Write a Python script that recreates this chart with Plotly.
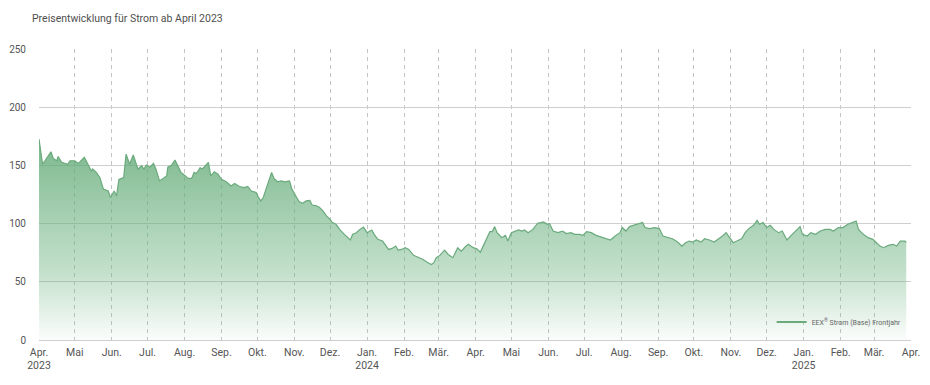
import plotly.graph_objects as go

title_text = "Preisentwicklung für Strom ab April 2023"
series_name = "EEX<sup>®</sup> Strom (Base) Frontjahr"

dates = [
    "2023-04-01", "2023-04-04", "2023-04-06", "2023-04-11", "2023-04-13", "2023-04-16", "2023-04-17", "2023-04-20",
    "2023-04-25", "2023-04-27", "2023-05-01", "2023-05-04", "2023-05-09", "2023-05-12", "2023-05-15", "2023-05-16",
    "2023-05-19", "2023-05-22", "2023-05-25", "2023-05-29", "2023-05-31", "2023-06-03", "2023-06-05", "2023-06-07",
    "2023-06-11", "2023-06-13", "2023-06-15", "2023-06-16", "2023-06-19", "2023-06-21", "2023-06-23", "2023-06-26",
    "2023-06-28", "2023-06-30", "2023-07-03", "2023-07-06", "2023-07-08", "2023-07-11", "2023-07-14", "2023-07-17",
    "2023-07-18", "2023-07-21", "2023-07-24", "2023-07-26", "2023-07-29", "2023-08-01", "2023-08-04", "2023-08-07",
    "2023-08-09", "2023-08-11", "2023-08-14", "2023-08-16", "2023-08-19", "2023-08-21", "2023-08-23", "2023-08-26",
    "2023-08-29", "2023-09-01", "2023-09-05", "2023-09-09", "2023-09-12", "2023-09-16", "2023-09-20", "2023-09-23",
    "2023-09-26", "2023-09-30", "2023-10-02", "2023-10-04", "2023-10-06", "2023-10-10", "2023-10-13", "2023-10-15",
    "2023-10-18", "2023-10-21", "2023-10-24", "2023-10-28", "2023-10-30", "2023-11-03", "2023-11-05", "2023-11-08",
    "2023-11-11", "2023-11-14", "2023-11-16", "2023-11-19", "2023-11-22", "2023-11-25", "2023-11-28", "2023-12-01",
    "2023-12-03", "2023-12-06", "2023-12-09", "2023-12-13", "2023-12-16", "2023-12-18", "2023-12-20", "2023-12-23",
    "2023-12-26", "2023-12-29", "2024-01-01", "2024-01-05", "2024-01-07", "2024-01-10", "2024-01-14", "2024-01-16",
    "2024-01-19", "2024-01-22", "2024-01-25", "2024-01-27", "2024-01-30", "2024-02-02", "2024-02-05", "2024-02-09",
    "2024-02-13", "2024-02-17", "2024-02-21", "2024-02-24", "2024-02-26", "2024-02-28", "2024-03-02", "2024-03-06",
    "2024-03-09", "2024-03-13", "2024-03-17", "2024-03-20", "2024-03-24", "2024-03-26", "2024-03-30", "2024-04-02",
    "2024-04-05", "2024-04-09", "2024-04-13", "2024-04-15", "2024-04-17", "2024-04-19", "2024-04-23", "2024-04-26",
    "2024-04-28", "2024-05-01", "2024-05-04", "2024-05-07", "2024-05-10", "2024-05-12", "2024-05-15", "2024-05-19",
    "2024-05-23", "2024-05-25", "2024-05-28", "2024-05-31", "2024-06-02", "2024-06-05", "2024-06-09", "2024-06-13",
    "2024-06-16", "2024-06-20", "2024-06-23", "2024-06-27", "2024-06-30", "2024-07-03", "2024-07-07", "2024-07-11",
    "2024-07-14", "2024-07-18", "2024-07-23", "2024-07-27", "2024-07-31", "2024-08-02", "2024-08-05", "2024-08-08",
    "2024-08-12", "2024-08-16", "2024-08-19", "2024-08-21", "2024-08-25", "2024-08-29", "2024-09-02", "2024-09-05",
    "2024-09-09", "2024-09-13", "2024-09-16", "2024-09-18", "2024-09-21", "2024-09-24", "2024-09-27", "2024-09-30",
    "2024-10-03", "2024-10-07", "2024-10-10", "2024-10-14", "2024-10-18", "2024-10-22", "2024-10-25", "2024-10-28",
    "2024-10-31", "2024-11-03", "2024-11-06", "2024-11-10", "2024-11-13", "2024-11-16", "2024-11-20", "2024-11-23",
    "2024-11-25", "2024-11-28", "2024-12-01", "2024-12-04", "2024-12-07", "2024-12-11", "2024-12-14", "2024-12-18",
    "2024-12-21", "2024-12-25", "2024-12-29", "2024-12-31", "2025-01-04", "2025-01-07", "2025-01-11", "2025-01-15",
    "2025-01-19", "2025-01-23", "2025-01-26", "2025-01-30", "2025-02-03", "2025-02-07", "2025-02-11", "2025-02-14",
    "2025-02-16", "2025-02-20", "2025-02-24", "2025-02-28", "2025-03-03", "2025-03-06", "2025-03-09", "2025-03-13",
    "2025-03-17", "2025-03-20", "2025-03-23", "2025-03-27", "2025-03-28",
]

prices = [
    172.7, 151.0, 154.0, 161.7, 156.0, 154.0, 157.7, 152.6,
    151.0, 154.0, 154.0, 151.7, 157.0, 151.0, 145.0, 147.0,
    144.0, 139.6, 129.6, 128.0, 122.4, 128.0, 123.8, 138.0,
    139.6, 159.7, 154.0, 151.0, 158.9, 152.6, 146.8, 149.7,
    146.8, 150.3, 148.5, 151.7, 147.0, 136.7, 138.6, 141.0,
    148.5, 150.0, 154.6, 149.7, 144.0, 141.6, 138.8, 138.8,
    144.0, 143.0, 148.0, 147.0, 150.3, 152.6, 141.0, 144.5,
    142.5, 138.0, 135.9, 132.4, 134.5, 131.9, 131.0, 131.9,
    128.0, 126.7, 122.4, 119.5, 122.4, 133.9, 144.0, 138.8,
    135.9, 136.7, 135.9, 136.7, 129.6, 122.4, 119.0, 117.5,
    119.5, 120.0, 116.0, 115.5, 114.0, 111.0, 106.6, 103.7,
    100.9, 99.4, 95.0, 90.8, 87.9, 85.9, 90.8, 92.2,
    95.0, 97.0, 92.2, 94.5, 90.8, 86.5, 85.0, 82.2,
    77.8, 78.7, 80.7, 77.2, 77.8, 79.3, 77.8, 72.7,
    70.7, 69.2, 66.4, 64.9, 66.4, 70.7, 72.7, 77.2,
    73.5, 70.7, 79.3, 76.4, 80.7, 82.2, 79.3, 78.4,
    75.5, 83.6, 93.1, 93.1, 97.4, 92.2, 87.9, 89.9,
    85.0, 92.2, 93.6, 94.5, 93.6, 94.5, 92.2, 95.0,
    100.3, 100.9, 101.4, 99.4, 100.0, 93.6, 92.2, 93.6,
    91.4, 92.2, 90.8, 90.8, 89.9, 93.1, 92.2, 89.9,
    88.8, 87.9, 85.9, 89.3, 92.2, 96.6, 93.6, 97.4,
    98.8, 100.3, 100.9, 96.6, 95.7, 96.6, 95.7, 89.3,
    87.9, 87.0, 85.0, 83.6, 80.7, 83.6, 85.0, 84.1,
    85.9, 84.1, 87.0, 85.9, 84.1, 87.0, 89.3, 92.2,
    87.9, 83.6, 85.0, 87.0, 92.2, 95.7, 98.5, 102.8,
    99.4, 100.9, 96.6, 98.5, 95.0, 92.2, 93.6, 85.9,
    89.3, 93.6, 97.4, 90.8, 89.3, 92.2, 90.8, 93.6,
    95.0, 95.0, 93.6, 96.6, 96.6, 99.4, 101.4, 102.2,
    95.0, 90.8, 87.9, 86.5, 83.6, 80.7, 79.3, 81.3,
    82.2, 80.7, 85.0, 85.0, 83.6,
]

month_ticks = [
    "2023-04-01", "2023-05-01", "2023-06-01", "2023-07-01", "2023-08-01", "2023-09-01", "2023-10-01",
    "2023-11-01", "2023-12-01", "2024-01-01", "2024-02-01", "2024-03-01", "2024-04-01", "2024-05-01",
    "2024-06-01", "2024-07-01", "2024-08-01", "2024-09-01", "2024-10-01", "2024-11-01", "2024-12-01",
    "2025-01-01", "2025-02-01", "2025-03-01", "2025-04-01",
]
month_labels = [
    "Apr.<br>2023", "Mai", "Jun.", "Jul.", "Aug.", "Sep.", "Okt.", "Nov.", "Dez.", "Jan.<br>2024",
    "Feb.", "Mär.", "Apr.", "Mai", "Jun.", "Jul.", "Aug.", "Sep.", "Okt.", "Nov.", "Dez.",
    "Jan.<br>2025", "Feb.", "Mär.", "Apr.",
]
y_ticks = [0, 50, 100, 150, 200, 250]

FONT = "Roboto"
LINE_COLOR = "#6aaa7c"

# The page body has an 8px default margin; size the figure so it fits the 930x385 window.
FIG_W, FIG_H = 922, 369

fig = go.Figure()
fig.add_trace(go.Scatter(
    x=dates, y=prices, mode="lines", name=series_name, showlegend=False,
    line=dict(color=LINE_COLOR, width=1.2),
    fill="tozeroy",
    fillgradient=dict(
        type="vertical",
        start=0, stop=170,
        colorscale=[[0, "rgba(110,180,130,0.03)"], [0.35, "rgba(110,180,130,0.42)"], [1, "rgba(95,168,116,0.82)"]],
    ),
))
# legend entry drawn as a plain line sample
fig.add_trace(go.Scatter(
    x=[None], y=[None], mode="lines", name=series_name, showlegend=True,
    line=dict(color=LINE_COLOR, width=2),
))

fig.update_layout(
    width=FIG_W, height=FIG_H,
    margin=dict(l=31, r=19, t=41, b=37, autoexpand=False),
    paper_bgcolor="white", plot_bgcolor="white",
    font=dict(family=FONT, size=11, color="#555555"),
    title=dict(text=title_text, x=24 / FIG_W, xref="container", xanchor="left",
               y=1 - 10 / FIG_H, yref="container", yanchor="middle",
               pad=dict(l=0, r=0, t=0, b=0),
               font=dict(family=FONT, size=10.5, color="#4f4f4f")),
    showlegend=True,
    legend=dict(x=0.995, xanchor="right", y=0.062, yanchor="middle",
                bgcolor="rgba(0,0,0,0)", font=dict(family=FONT, size=7, color="#666666"),
                itemwidth=30),
)
fig.update_xaxes(
    type="date", range=["2023-04-01", "2025-04-01"], automargin=False,
    tickvals=month_ticks, ticktext=month_labels,
    showgrid=True, gridcolor="#c4c4c4", griddash="4px,4px", gridwidth=1,
    showline=False, zeroline=False, ticks="", ticklabelstandoff=4,
    tickfont=dict(size=10.5, color="#555555"),
)
fig.update_yaxes(
    range=[0, 250], tickvals=y_ticks, automargin=False,
    showgrid=True, gridcolor="#cfcfcf", gridwidth=1,
    zeroline=True, zerolinecolor="#cfcfcf", zerolinewidth=1,
    showline=False, ticks="outside", ticklen=10, tickcolor="rgba(0,0,0,0)",
    tickfont=dict(size=10, color="#555555"),
)

fig.write_html("out.html")
